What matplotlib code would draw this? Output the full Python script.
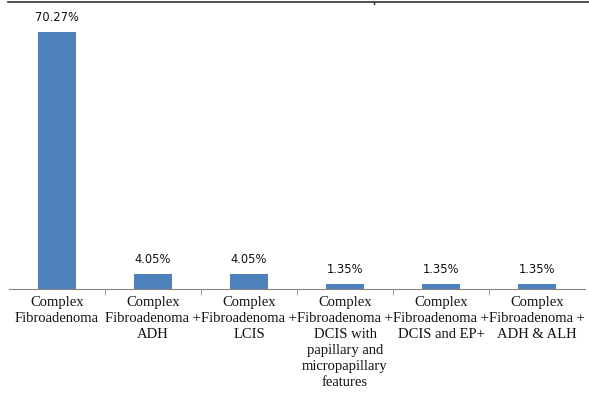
import matplotlib.pyplot as plt
from matplotlib.lines import Line2D

categories = [
    "Complex\nFibroadenoma",
    "Complex\nFibroadenoma +\nADH",
    "Complex\nFibroadenoma +\nLCIS",
    "Complex\nFibroadenoma +\nDCIS with\npapillary and\nmicropapillary\nfeatures",
    "Complex\nFibroadenoma +\nDCIS and EP+",
    "Complex\nFibroadenoma +\nADH & ALH",
]
values = [70.27, 4.05, 4.05, 1.35, 1.35, 1.35]
value_labels = ["70.27%", "4.05%", "4.05%", "1.35%", "1.35%", "1.35%"]

W, H = 589, 394
fig = plt.figure(figsize=(W / 100, H / 100), dpi=100)
ax = fig.add_axes([9 / W, (H - 289) / H, 576 / W, 285 / H])

x = range(len(values))
ax.bar(x, values, width=0.4, color="#4F81BD")

for i, (v, lab) in enumerate(zip(values, value_labels)):
    ax.text(i, v + 2.3, lab, ha="center", va="bottom", fontsize=8.3,
            family="DejaVu Sans", color="#111111")

ax.set_xlim(-0.5, len(values) - 0.5)
ax.set_ylim(0, 78)
ax.set_yticks([])
for s in ["top", "right", "left"]:
    ax.spines[s].set_visible(False)
ax.spines["bottom"].set_color("#868686")

ax.set_xticks(list(x))
ax.set_xticklabels(categories, family="Liberation Serif", fontsize=10.5,
                   linespacing=1.3, color="#111111")
ax.tick_params(axis="x", which="major", length=0, pad=5)
ax.set_xticks([i + 0.5 for i in range(len(values) - 1)], minor=True)
ax.tick_params(axis="x", which="minor", length=4, color="#868686")

# thin border line at the top of the image
fig.add_artist(Line2D([8 / W, 1], [1 - 1.5 / H, 1 - 1.5 / H], color="#333333", lw=1.2))
fig.add_artist(Line2D([374 / W, 374 / W], [1 - 1.5 / H, 1 - 4 / H], color="#333333", lw=1))

fig.savefig("out.png", dpi=100)
